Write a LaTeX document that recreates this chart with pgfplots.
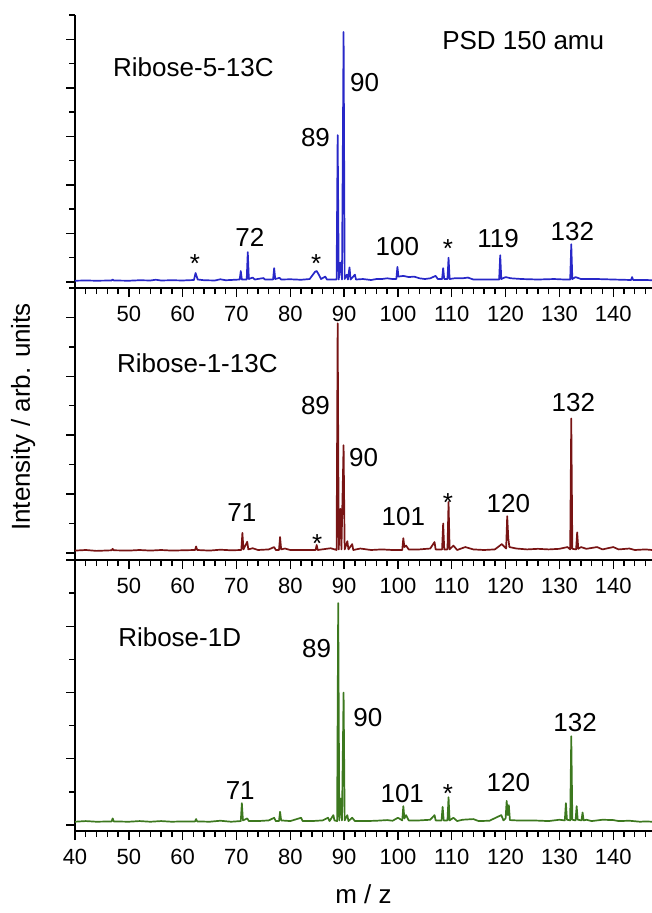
\documentclass[border=0pt]{standalone}
\usepackage{fontspec}
\setmainfont{Liberation Sans}
\usepackage{pgfplots}
\pgfplotsset{compat=1.18}

\definecolor{specblue}{RGB}{40,40,200}
\definecolor{specred}{RGB}{120,20,20}
\definecolor{specgreen}{RGB}{60,120,30}

\tikzset{ann/.style={font=\fontsize{26}{30}\selectfont, inner sep=0pt}}

\pgfplotsset{
  spec/.style={
    scale only axis, width=577pt,
    xmin=40, xmax=147.2,
    axis lines*=left,
    axis line style={line width=1.9pt},
    tick align=outside,
    xtick={40,50,...,140}, minor xtick={42,44,...,146},
    ytick={0,2,...,10}, minor ytick={1,3,...,11},
    yticklabels={},
    major tick length=9pt, minor tick length=6pt,
    tick style={black, line width=1.4pt},
    tick label style={font=\fontsize{22}{26}\selectfont},
    xticklabel style={yshift=-6pt},
    /pgf/number format/assume math mode=true,
    label style={font=\fontsize{26}{30}\selectfont},
    clip=false,
  },
  upper/.style={xticklabels={{},50,60,70,80,90,100,110,120,130,140}},
  spectrum/.style={line width=1.7pt, line join=round, no marks},
}

\begin{document}
\begin{tikzpicture}
\useasboundingbox (0pt,0pt) rectangle (652pt,-913pt);

% top panel: Ribose-5-13C
\begin{axis}[spec, upper, height=273pt, ymin=-0.25, ymax=11,
  at={(75pt,-288pt)}, anchor=south west]
\addplot[spectrum, specblue] coordinates {
(40,0.05)(42,0.06)(44,0.05)(46.8,0.06)(47,0.1)(47.2,0.06)(50,0.05)(52,0.07)(54,0.06)(55,0.09)(56,0.06)(58,0.07)(60,0.06)
(62.1,0.08)(62.4,0.37)(62.8,0.1)(64,0.07)(66,0.06)(67,0.11)(68,0.07)(70.6,0.1)(70.8,0.45)(71,0.1)(71.9,0.1)(72.1,1.23)(72.3,0.12)
(73,0.18)(73.4,0.1)(75,0.16)(75.3,0.1)(76.8,0.1)(77,0.57)(77.2,0.12)(78,0.17)(78.3,0.1)(80,0.11)(82,0.09)(83.6,0.12)
(84.2,0.3)(84.6,0.42)(84.9,0.45)(85.3,0.3)(85.7,0.12)(86.5,0.22)(86.8,0.1)(88.6,0.1)(88.8,6.05)(89.0,0.1)(89.3,0.8)(89.6,0.1)
(89.9,10.3)(90.1,0.12)(90.5,0.3)(90.7,0.1)(91,0.6)(91.2,0.1)(92,0.3)(92.2,0.1)(93.5,0.12)(95,0.08)(96,0.12)(97,0.12)(98,0.15)
(99,0.12)(99.7,0.12)(99.9,0.62)(100.1,0.22)(101,0.25)(102,0.2)(103,0.22)(104,0.15)(105,0.12)(106,0.15)(107,0.25)(107.4,0.12)
(108.2,0.12)(108.4,0.57)(108.6,0.12)(109.2,0.12)(109.4,1.0)(109.6,0.12)(110.5,0.15)(112,0.15)(113,0.18)(114,0.1)(116,0.1)
(118.8,0.1)(119,1.1)(119.2,0.12)(120,0.2)(121,0.15)(123,0.12)(126,0.1)(129,0.12)(131,0.1)(132,0.1)(132.2,1.55)(132.4,0.12)
(133,0.2)(134,0.12)(137,0.12)(140,0.1)(143.3,0.08)(143.5,0.2)(143.7,0.08)(146,0.08)(147.2,0.07)
};
\node[ann, anchor=west] at (axis cs:47.06,8.85) {Ribose-5-13C};
\node[ann, anchor=west] at (axis cs:108.2,9.96) {PSD 150 amu};
\node[ann, anchor=west] at (axis cs:91.1,8.23) {90};
\node[ann, anchor=east] at (axis cs:87.4,5.93) {89};
\node[ann] at (axis cs:72.5,1.85) {72};
\node[ann] at (axis cs:99.9,1.44) {100};
\node[ann] at (axis cs:118.6,1.8) {119};
\node[ann] at (axis cs:132.4,2.06) {132};
\node[ann, anchor=base] at (axis cs:62.3,0.37) {*};
\node[ann, anchor=base] at (axis cs:84.8,0.37) {*};
\node[ann, anchor=base] at (axis cs:109.3,0.99) {*};
\end{axis}

% middle panel: Ribose-1-13C
\begin{axis}[spec, upper, height=272pt, ymin=-0.24, ymax=9,
  at={(75pt,-560pt)}, anchor=south west,
  ylabel={Intensity / arb. units},
  ylabel style={at={(axis description cs:-0.09,0.526)}, anchor=center}]
\addplot[spectrum, specred] coordinates {
(40,0.08)(42,0.1)(44,0.07)(46.8,0.09)(47,0.14)(47.2,0.09)(50,0.08)(52,0.1)(54,0.08)(56,0.1)(58,0.08)(60,0.09)
(62.3,0.1)(62.5,0.22)(62.7,0.1)(65,0.08)(67,0.11)(69,0.09)(70.9,0.1)(71.1,0.68)(71.3,0.12)(72,0.38)(72.2,0.12)(73,0.16)
(74,0.1)(76,0.12)(77,0.2)(77.3,0.1)(77.9,0.1)(78.1,0.54)(78.3,0.12)(79,0.15)(80,0.1)(82,0.1)(84.7,0.1)(84.9,0.27)(85.1,0.1)
(87.5,0.16)(88.6,0.1)(88.8,7.8)(89.0,0.12)(89.3,1.5)(89.5,0.12)(89.9,3.66)(90.1,0.12)(90.6,0.4)(90.8,0.12)(91.5,0.3)(91.7,0.1)
(93,0.15)(95,0.1)(97,0.12)(99,0.1)(100.8,0.1)(101,0.5)(101.2,0.2)(101.5,0.25)(102,0.12)(104,0.12)(106,0.15)(106.8,0.37)
(107,0.12)(108.2,0.12)(108.4,1.0)(108.6,0.12)(109.2,0.12)(109.4,1.73)(109.6,0.12)(110.3,0.25)(111,0.1)(112.5,0.2)(114,0.12)
(116,0.1)(118,0.12)(119.3,0.3)(120.1,0.15)(120.3,1.25)(120.5,0.5)(120.7,0.2)(122,0.15)(124,0.12)(126,0.14)(128,0.12)
(130,0.14)(131.5,0.2)(132,0.12)(132.2,4.57)(132.4,0.14)(133.1,0.12)(133.3,0.7)(133.5,0.14)(134,0.2)(135,0.14)(137,0.2)
(138,0.12)(140,0.2)(141,0.12)(143,0.15)(144,0.1)(146,0.12)(147.2,0.1)
};
\node[ann, anchor=west] at (axis cs:47.8,6.44) {Ribose-1-13C};
\node[ann, anchor=east] at (axis cs:87.4,5.02) {89};
\node[ann, anchor=west] at (axis cs:90.9,3.25) {90};
\node[ann] at (axis cs:71.0,1.36) {71};
\node[ann] at (axis cs:101,1.22) {101};
\node[ann] at (axis cs:120.5,1.69) {120};
\node[ann] at (axis cs:132.6,5.1) {132};
\node[ann, anchor=base] at (axis cs:85,0.0) {*};
\node[ann, anchor=base] at (axis cs:109.3,1.42) {*};
\end{axis}

% bottom panel: Ribose-1D
\begin{axis}[spec, height=271pt, ymin=-0.18, ymax=8,
  at={(75pt,-831pt)}, anchor=south west,
  xlabel={m / z},
  xlabel style={at={(axis description cs:0.5,-0.232)}, anchor=center}]
\addplot[spectrum, specgreen] coordinates {
(40,0.1)(42,0.12)(44,0.1)(46.8,0.11)(47,0.2)(47.2,0.11)(50,0.1)(52,0.12)(54,0.1)(56,0.12)(58,0.1)(60,0.11)
(62.3,0.11)(62.5,0.18)(62.7,0.11)(65,0.1)(67,0.13)(69,0.1)(70.8,0.12)(71.0,0.66)(71.2,0.14)(72,0.2)(72.3,0.12)(74,0.12)
(76,0.14)(77,0.22)(77.3,0.12)(77.9,0.12)(78.1,0.4)(78.3,0.14)(80,0.12)(82,0.22)(82.3,0.12)(84,0.12)(86,0.14)(87,0.22)
(87.3,0.12)(88,0.3)(88.2,0.14)(88.7,0.12)(88.9,6.7)(89.1,0.14)(89.4,0.8)(89.6,0.14)(89.9,4.0)(90.1,0.14)(90.6,0.3)(90.8,0.12)
(91.5,0.22)(92,0.12)(94,0.12)(96,0.13)(98,0.15)(99,0.13)(100,0.22)(100.8,0.14)(101,0.57)(101.2,0.2)(101.5,0.3)(102,0.14)
(104,0.14)(106,0.16)(106.8,0.3)(107,0.14)(108.1,0.14)(108.3,0.55)(108.5,0.14)(109.2,0.14)(109.4,0.84)(109.6,0.14)(110.3,0.22)
(111,0.12)(112,0.16)(114,0.18)(115,0.12)(117,0.13)(119.2,0.3)(119.6,0.14)(120.0,0.2)(120.2,0.73)(120.4,0.3)(120.6,0.6)(120.8,0.15)
(122,0.14)(125,0.14)(128,0.12)(130,0.16)(131,0.14)(131.2,0.66)(131.4,0.16)(132,0.14)(132.2,2.68)(132.4,0.16)(133,0.14)
(133.2,0.57)(133.4,0.16)(134.1,0.14)(134.3,0.38)(134.5,0.14)(135,0.16)(136,0.12)(138,0.16)(140,0.15)(141,0.12)(143,0.13)
(145,0.1)(146,0.11)(147.2,0.1)
};
\node[ann, anchor=west] at (axis cs:48,5.66) {Ribose-1D};
\node[ann, anchor=east] at (axis cs:87.6,5.33) {89};
\node[ann, anchor=west] at (axis cs:91.7,3.25) {90};
\node[ann] at (axis cs:70.7,1.05) {71};
\node[ann] at (axis cs:100.8,0.96) {101};
\node[ann] at (axis cs:120.5,1.27) {120};
\node[ann] at (axis cs:132.9,3.1) {132};
\node[ann, anchor=base] at (axis cs:109.3,0.69) {*};
\end{axis}
\end{tikzpicture}
\end{document}
